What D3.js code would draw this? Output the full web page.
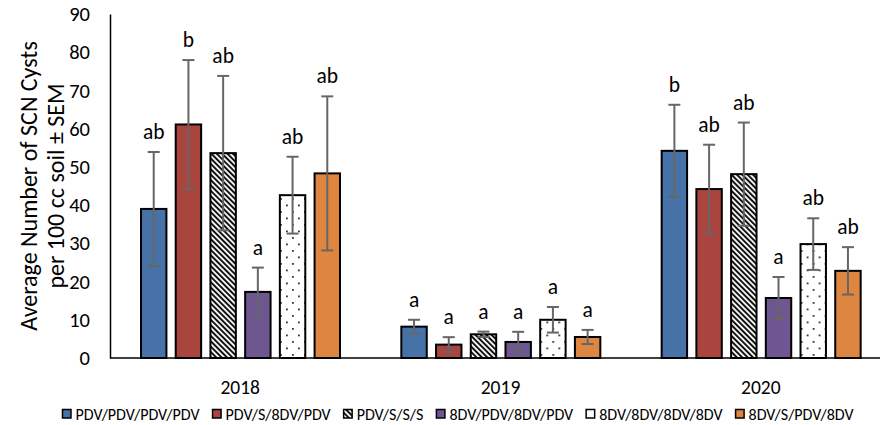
<!DOCTYPE html>
<html><head><meta charset="utf-8">
<script src="https://cdn.jsdelivr.net/npm/d3@7"></script>
<style>
html,body{margin:0;padding:0;background:#fff;}
text{font-family:Carlito,Lato,"Open Sans",sans-serif;fill:#000;}
</style></head>
<body><svg id="c" width="880" height="425"></svg>
<script>
const years = ["2018", "2019", "2020"];
const seriesNames = ["PDV/PDV/PDV/PDV", "PDV/S/8DV/PDV", "PDV/S/S/S", "8DV/PDV/8DV/PDV", "8DV/8DV/8DV/8DV", "8DV/S/PDV/8DV"];
// means per series, one value per year
const s1 = [39.0, 8.2, 54.2];
const s2 = [61.1, 3.5, 44.2];
const s3 = [53.6, 6.2, 48.1];
const s4 = [17.3, 4.2, 15.7];
const s5 = [42.6, 10.0, 29.8];
const s6 = [48.3, 5.5, 22.8];
// SEM per series, one value per year
const e1 = [14.9, 1.8, 12.05];
const e2 = [16.85, 1.95, 11.6];
const e3 = [20.2, 0.7, 13.5];
const e4 = [6.35, 2.65, 5.5];
const e5 = [10.05, 3.35, 6.75];
const e6 = [20.15, 1.85, 6.2];
// significance letters per series, one per year
const l1 = ["ab", "a", "b"];
const l2 = ["b", "a", "ab"];
const l3 = ["ab", "a", "ab"];
const l4 = ["a", "a", "a"];
const l5 = ["ab", "a", "ab"];
const l6 = ["ab", "a", "ab"];
const yTicks = [0, 10, 20, 30, 40, 50, 60, 70, 80, 90];
const yTitle = ["Average Number of SCN Cysts", "per 100 cc soil \u00b1 SEM"];

const means = [s1, s2, s3, s4, s5, s6];
const sems = [e1, e2, e3, e4, e5, e6];
const letters = [l1, l2, l3, l4, l5, l6];
const fills = ["#4672A8", "#A9443F", "url(#hatch)", "#6E5691", "url(#dots)", "#DE8540"];

const svg = d3.select("#c");
const defs = svg.append("defs");
const hp = defs.append("pattern").attr("id", "hatch").attr("patternUnits", "userSpaceOnUse")
  .attr("width", 3.8).attr("height", 10).attr("patternTransform", "rotate(-45)");
hp.append("rect").attr("width", 3.8).attr("height", 10).attr("fill", "#fff");
hp.append("rect").attr("width", 2.0).attr("height", 10).attr("fill", "#111");
const dp = defs.append("pattern").attr("id", "dots").attr("patternUnits", "userSpaceOnUse")
  .attr("width", 12).attr("height", 13);
dp.append("rect").attr("width", 12).attr("height", 13).attr("fill", "#fff");
dp.append("rect").attr("x", 2).attr("y", 3).attr("width", 1.8).attr("height", 1.8).attr("fill", "#333");
dp.append("rect").attr("x", 8).attr("y", 9.5).attr("width", 1.8).attr("height", 1.8).attr("fill", "#333");

const y = d3.scaleLinear().domain([0, 90]).range([358, 14]);
const x0 = d3.scaleBand().domain(years).range([110, 891]);
const x1 = d3.scaleBand().domain(d3.range(seriesNames.length)).range([30, 231]).paddingInner(0.21);

// y axis
const yAxis = d3.axisLeft(y).tickValues(yTicks).tickSize(0).tickPadding(20);
const ga = svg.append("g").attr("transform", "translate(110,0)").call(yAxis);
ga.select(".domain").attr("stroke", "#000").attr("stroke-width", 1.5);
ga.selectAll("text").attr("font-size", 20.5).attr("font-family", "Carlito,Lato,sans-serif").attr("fill", "#000");

// y title
const tt = svg.append("text").attr("transform", "translate(37,186) rotate(-90)")
  .attr("text-anchor", "middle").attr("font-size", 24);
tt.append("tspan").attr("x", 0).attr("dy", 0).text(yTitle[0]);
tt.append("tspan").attr("x", 0).attr("dy", 27).text(yTitle[1]);

// bars
const groups = svg.append("g").selectAll("g").data(years).join("g")
  .attr("transform", d => `translate(${x0(d)},0)`);
groups.each(function (yr, yi) {
  const g = d3.select(this);
  seriesNames.forEach((s, si) => {
    const v = means[si][yi], e = sems[si][yi];
    const bx = x1(si), bw = x1.bandwidth();
    g.append("rect").attr("x", bx + 1).attr("y", y(v)).attr("width", bw - 2).attr("height", y(0) - y(v))
      .attr("fill", fills[si]).attr("stroke", "#000").attr("stroke-width", 2);
    const cx = bx + bw / 2;
    g.append("line").attr("x1", cx).attr("x2", cx).attr("y1", y(v + e)).attr("y2", y(v - e))
      .attr("stroke", "#666").attr("stroke-width", 2);
    [v + e, v - e].forEach(t => g.append("line").attr("x1", cx - 6).attr("x2", cx + 6)
      .attr("y1", y(t)).attr("y2", y(t)).attr("stroke", "#666").attr("stroke-width", 2));
    g.append("text").attr("x", cx).attr("y", y(v + e) - 13).attr("text-anchor", "middle")
      .attr("font-size", 21.5).text(letters[si][yi]);
  });
});

// baseline
svg.append("line").attr("x1", 110).attr("x2", 891).attr("y1", y(0)).attr("y2", y(0))
  .attr("stroke", "#000").attr("stroke-width", 1.5);

// x labels
const xAxis = d3.axisBottom(x0).tickSize(0).tickPadding(22);
const gx = svg.append("g").attr("transform", `translate(0,${y(0)})`).call(xAxis);
gx.select(".domain").remove();
gx.selectAll("text").attr("font-size", 19.5).attr("font-family", "Carlito,Lato,sans-serif").attr("fill", "#000");

// legend
const lg = svg.append("g");
let lx = 0;
seriesNames.forEach((s, i) => {
  const it = lg.append("g");
  it.append("rect").attr("x", 0).attr("y", -4.5).attr("width", 8.5).attr("height", 8.5)
    .attr("fill", fills[i] === "url(#dots)" ? "#fff" : fills[i]).attr("stroke", "#000").attr("stroke-width", 1.5);
  const t = it.append("text").attr("x", 13).attr("y", 5.5).attr("font-size", 16).text(s);
  const w = 13 + t.node().getComputedTextLength();
  it.attr("transform", `translate(${lx},414)`);
  lx += w + 13;
});
const total = lx - 13;
lg.attr("transform", `translate(${458 - total / 2},0)`);
</script></body></html>
